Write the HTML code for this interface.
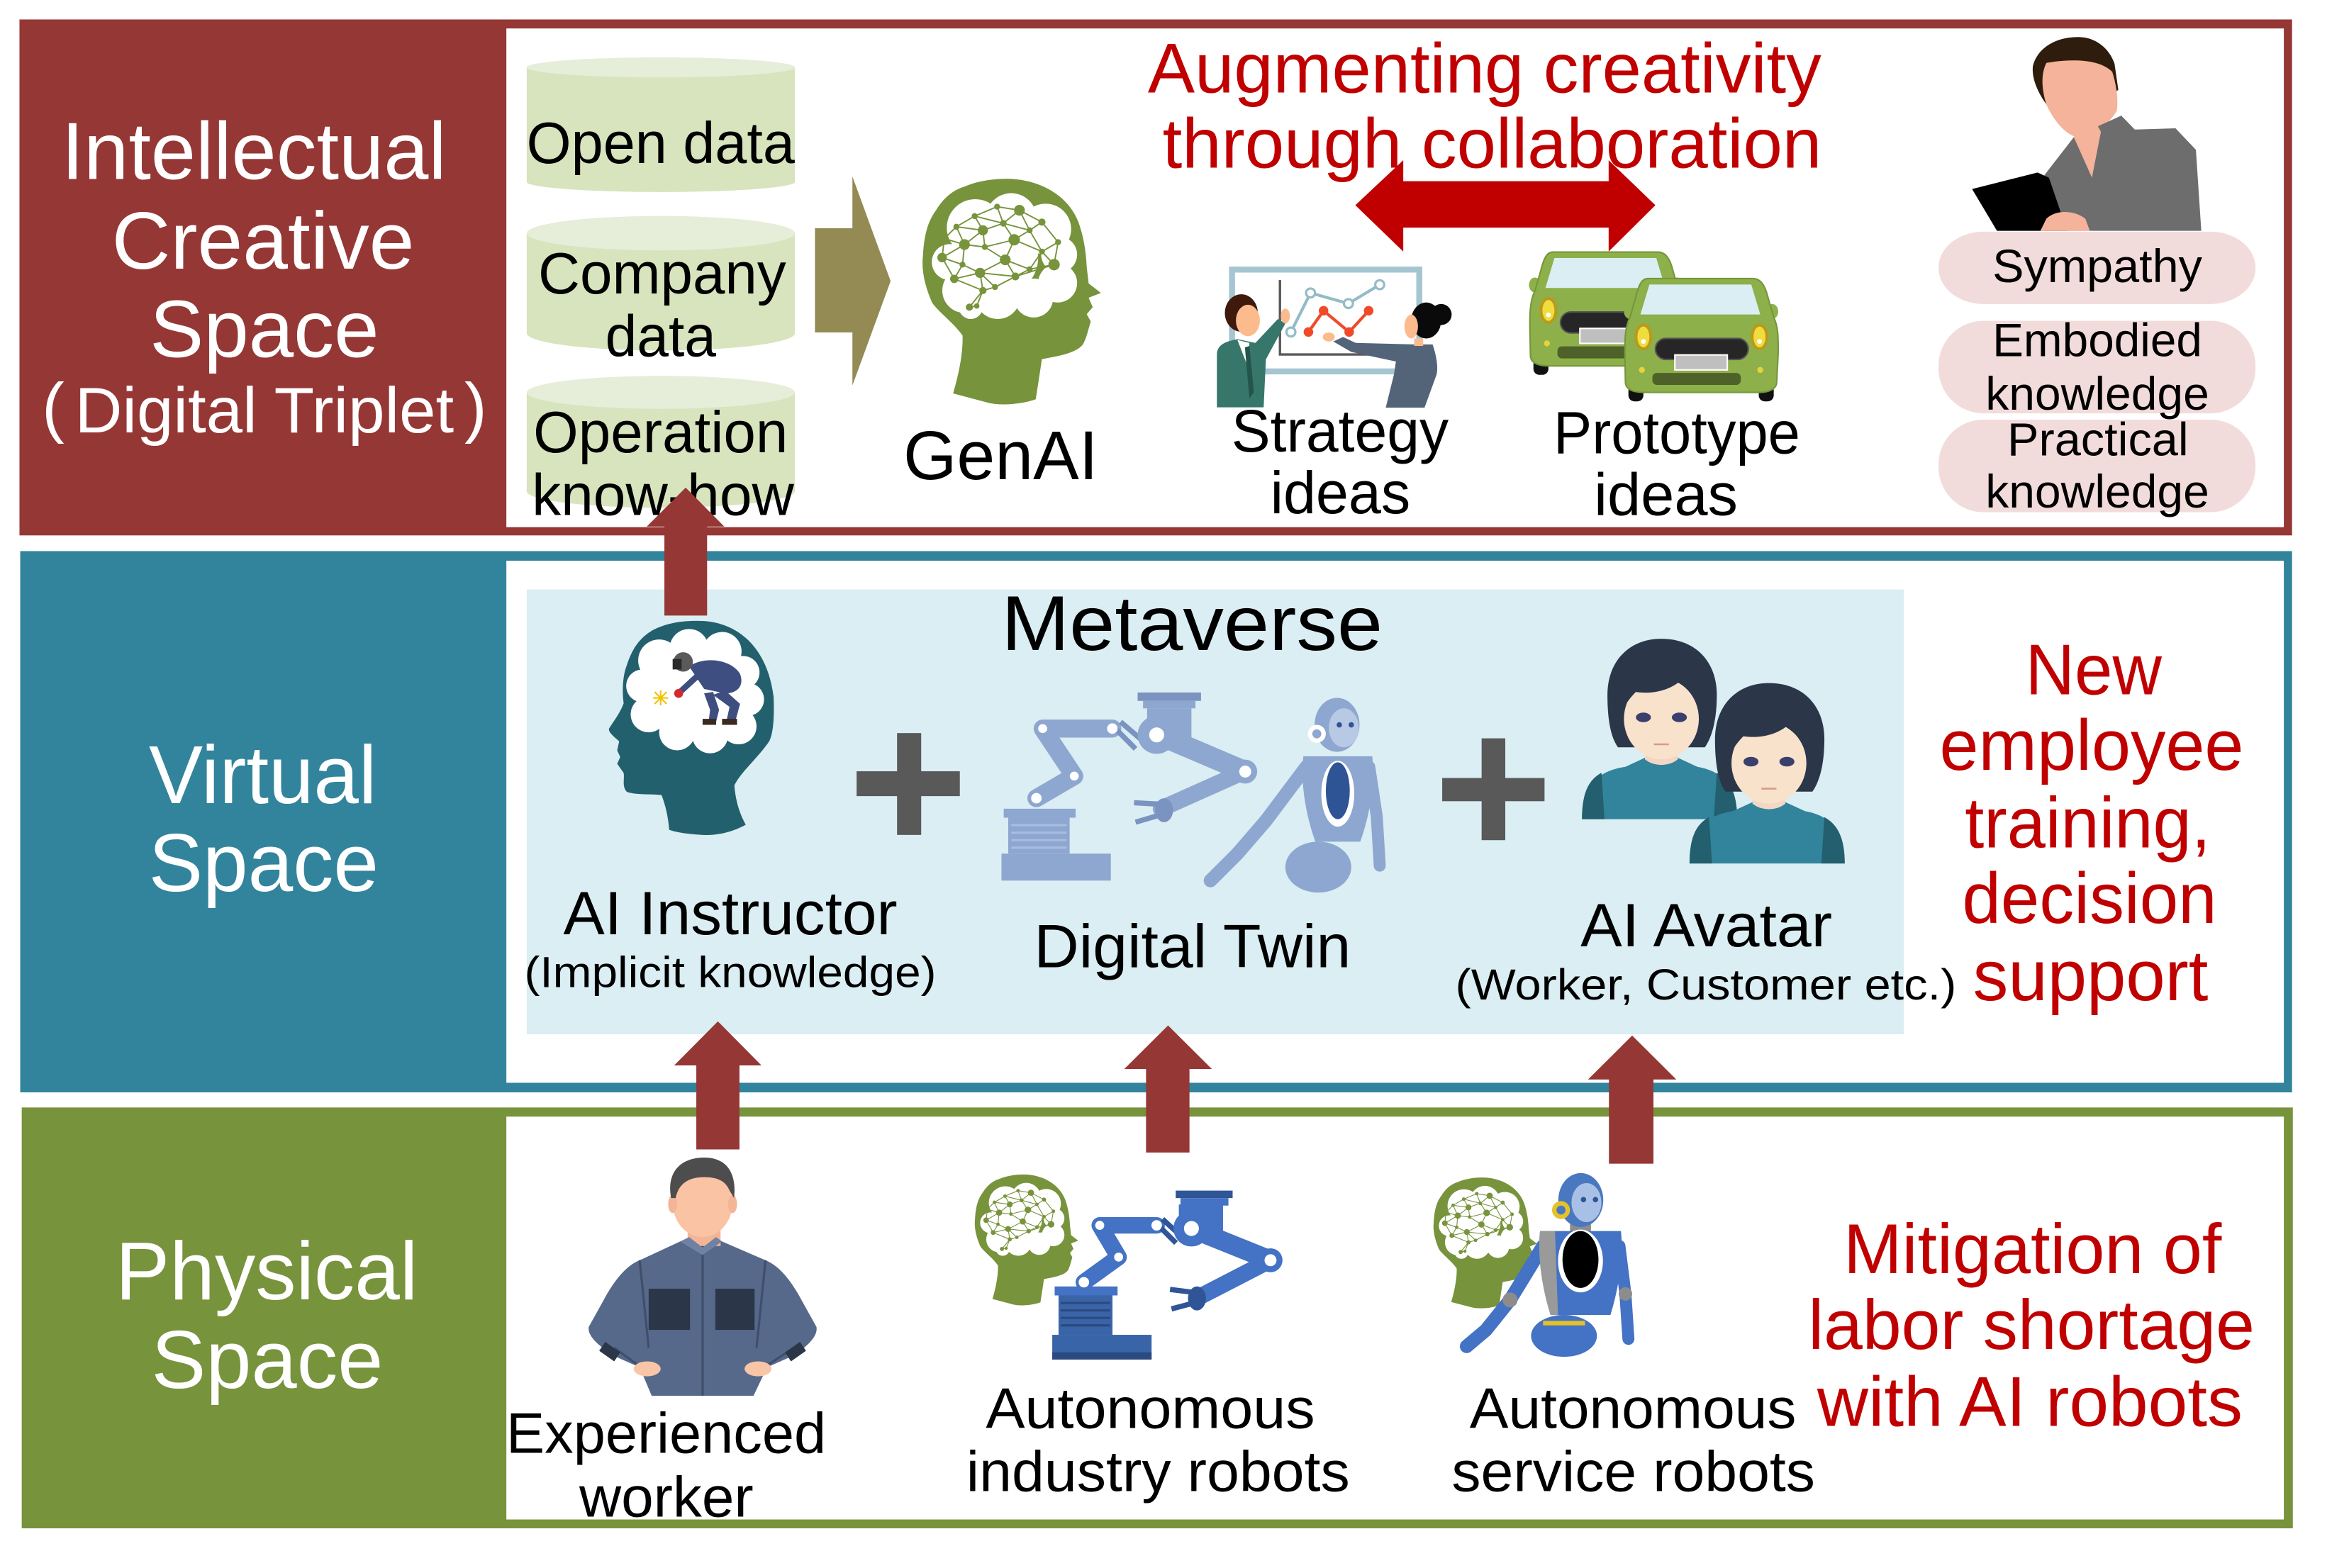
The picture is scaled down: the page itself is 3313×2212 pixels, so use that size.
<!DOCTYPE html>
<html>
<head>
<meta charset="utf-8">
<style>
html,body{margin:0;padding:0;background:#fff;overflow:hidden;}
svg{display:block;}
.t{font-family:"Liberation Sans",Arial,"Noto Sans CJK JP",sans-serif;}
</style>
</head>
<body>
<svg width="3313" height="2212" viewBox="0 0 1568 1047" preserveAspectRatio="none" xmlns="http://www.w3.org/2000/svg" xmlns:xlink="http://www.w3.org/1999/xlink">
<defs>
  <g id="brainhead">
    <path fill="#77933C" d="M671,119.4 C690,119 712,128 719.9,148.3 C724,160 725,170 725.4,178.3 L726.7,189.3 L734.9,195.6 L726.7,198.8 L729.4,205.1 L725.4,209.8 L728.1,214.6 L725.4,224 C724,228 723,230 722.6,230.3 C718,236 705,238 695.5,239.8 L691.4,266.6 C682,270 668,271 660,269 L636.2,262.7 C640,250 643,235 642.5,224 C636,215 626,208 622.1,201.9 C617,190 615,180 616.1,170.4 C617,155 620,147 624.8,140.4 C630,132 636,127 643.8,124.6 C652,121 662,119.5 671,119.4 Z"/>
    <g fill="#fff">
      <circle cx="651" cy="152" r="19"/>
      <circle cx="675" cy="146" r="17"/>
      <circle cx="698" cy="153" r="17"/>
      <circle cx="707" cy="170" r="12"/>
      <circle cx="706" cy="189" r="13"/>
      <circle cx="690" cy="199" r="13"/>
      <circle cx="666" cy="198" r="15"/>
      <circle cx="644" cy="194" r="15"/>
      <circle cx="634" cy="175" r="12"/>
      <circle cx="668" cy="172" r="25"/>
      <circle cx="648" cy="205" r="8"/>
    </g>
    <path stroke="#77933C" stroke-width="0.9" fill="none" d="M665.6,138 L680.5,140.4 M665.6,138 L650.6,144.3 M665.6,138 L669.7,149.1 M680.5,140.4 L695.5,148.3 M680.5,140.4 L669.7,149.1 M680.5,140.4 L687.3,153.8 M695.5,148.3 L687.3,153.8 M695.5,148.3 L706.3,161.7 M650.6,144.3 L638.4,151.4 M650.6,144.3 L656.1,153.8 M650.6,144.3 L669.7,149.1 M638.4,151.4 L630.3,159.3 M638.4,151.4 L656.1,153.8 M638.4,151.4 L643.8,163.3 M656.1,153.8 L669.7,149.1 M656.1,153.8 L657.4,164.9 M656.1,153.8 L643.8,163.3 M669.7,149.1 L677,160.1 M669.7,149.1 L687.3,153.8 M687.3,153.8 L677,160.1 M687.3,153.8 L695.5,168 M630.3,159.3 L643.8,163.3 M630.3,159.3 L628.9,172 M643.8,163.3 L657.4,164.9 M643.8,163.3 L642.5,176.7 M643.8,163.3 L628.9,172 M657.4,164.9 L677,160.1 M657.4,164.9 L671,173.5 M677,160.1 L695.5,168 M677,160.1 L671,173.5 M706.3,161.7 L695.5,168 M706.3,161.7 L703.6,176.7 M695.5,168 L703.6,176.7 M695.5,168 L687.3,179.8 M628.9,172 L642.5,176.7 M628.9,172 L637,186.2 M642.5,176.7 L654.2,182.2 M642.5,176.7 L637,186.2 M671,173.5 L654.2,182.2 M671,173.5 L677.8,184.6 M671,173.5 L687.3,179.8 M703.6,176.7 L687.3,179.8 M703.6,176.7 L677.8,184.6 M637,186.2 L654.2,182.2 M637,186.2 L656.1,194 M654.2,182.2 L677.8,184.6 M654.2,182.2 L664.2,191.7 M654.2,182.2 L656.1,194 M677.8,184.6 L664.2,191.7 M687.3,179.8 L677.8,184.6 M664.2,191.7 L656.1,194 M656.1,194 L647.1,205.1 M656.1,194 L652,204.3 M647.1,205.1 L652,204.3"/>
    <g fill="#77933C">
      <circle cx="665.6" cy="138" r="2"/><circle cx="680.5" cy="140.4" r="3.6"/><circle cx="695.5" cy="148.3" r="2.4"/>
      <circle cx="650.6" cy="144.3" r="2"/><circle cx="638.4" cy="151.4" r="2"/><circle cx="656.1" cy="153.8" r="3.4"/>
      <circle cx="669.7" cy="149.1" r="2.2"/><circle cx="687.3" cy="153.8" r="2"/><circle cx="630.3" cy="159.3" r="2"/>
      <circle cx="643.8" cy="163.3" r="3.6"/><circle cx="657.4" cy="164.9" r="2"/><circle cx="677" cy="160.1" r="3.8"/>
      <circle cx="706.3" cy="161.7" r="2"/><circle cx="695.5" cy="168" r="2"/><circle cx="628.9" cy="172" r="3.2"/>
      <circle cx="642.5" cy="176.7" r="2"/><circle cx="671" cy="173.5" r="3.6"/><circle cx="703.6" cy="176.7" r="3.8"/>
      <circle cx="637" cy="186.2" r="2.8"/><circle cx="654.2" cy="182.2" r="3.4"/><circle cx="677.8" cy="184.6" r="2.6"/>
      <circle cx="687.3" cy="179.8" r="2"/><circle cx="664.2" cy="191.7" r="2"/><circle cx="656.1" cy="194" r="2.4"/>
      <circle cx="647.1" cy="205.1" r="2.4"/><circle cx="652" cy="204.3" r="1.8"/>
    </g>
  </g>
  <g id="car">
    <rect x="1087" y="249" width="10" height="19" rx="4" fill="#111"/>
    <rect x="1174" y="249" width="10" height="19" rx="4" fill="#111"/>
    <ellipse cx="1088" cy="208" rx="4" ry="5" fill="#8DB04A"/>
    <ellipse cx="1183" cy="208" rx="4" ry="5" fill="#8DB04A"/>
    <path fill="#8DB04A" stroke="#76963A" stroke-width="1" d="M1100,186 L1170,186 C1175,186 1178,190 1180,198 L1184,212 C1187,218 1187,225 1187,235 L1186,255 C1186,260 1180,262 1175,262 L1097,262 C1090,262 1085,260 1085,255 L1084.6,235 C1084.6,225 1085,218 1088,212 L1092,198 C1094,190 1096,186 1100,186 Z"/>
    <path fill="#DAEEF3" d="M1101,190 L1169,190 L1175,210 L1095,210 Z"/>
    <ellipse cx="1097" cy="225" rx="6" ry="9" fill="#B89A1E"/>
    <ellipse cx="1097" cy="225" rx="4" ry="7" fill="#F0DC3C"/>
    <circle cx="1097" cy="228" r="1.6" fill="#fff"/>
    <ellipse cx="1174.5" cy="225" rx="6" ry="9" fill="#B89A1E"/>
    <ellipse cx="1174.5" cy="225" rx="4" ry="7" fill="#F0DC3C"/>
    <circle cx="1174.5" cy="228" r="1.6" fill="#fff"/>
    <rect x="1105" y="226" width="62" height="14" rx="7" fill="#262626" stroke="#555" stroke-width="1"/>
    <rect x="1118" y="237" width="35" height="10" fill="#BFBFBF" stroke="#fff" stroke-width="1"/>
    <rect x="1103" y="249" width="59" height="8" rx="3" fill="#4E6129"/>
    <circle cx="1096" cy="247" r="2" fill="#E6D23A"/>
    <circle cx="1175" cy="247" r="2" fill="#E6D23A"/>
  </g>
  <g id="avatar">
    <path fill="#31849B" d="M1056,547 C1056,525 1066,515 1085,512 L1098,506 L1120,506 L1133,512 C1150,515 1159.6,525 1159.6,547 Z"/>
    <path fill="#235F6E" d="M1056,547 C1056,530 1060,521 1069,516 L1071,547 Z"/>
    <path fill="#235F6E" d="M1159.6,547 C1159.6,530 1155,521 1146,516 L1144,547 Z"/>
    <path fill="#F3D7C4" d="M1099,494 L1119,494 L1120,507 C1114,512 1104,512 1098,507 Z"/>
    <path fill="#2B3648" d="M1109,426.5 C1132,426.5 1146,442 1146,464 C1146,480 1143,492 1138,499 L1080,499 C1075,492 1073,480 1073,464 C1073,442 1087,426.5 1109,426.5 Z"/>
    <ellipse cx="1109" cy="480" rx="25" ry="27" fill="#F8E2CC"/>
    <path fill="#2B3648" d="M1082,476 C1080,450 1094,440 1110,440 C1128,440 1138,452 1137,474 C1133,462 1128,456 1124,452 C1118,460 1104,464 1092,462 C1088,466 1085,470 1082,476 Z"/>
    <ellipse cx="1097" cy="479" rx="5" ry="3.2" fill="#3A3F6B"/>
    <ellipse cx="1121" cy="479" rx="5" ry="3.2" fill="#3A3F6B"/>
    <path d="M1104,497 L1114,497" stroke="#D99A8A" stroke-width="1.2"/>
  </g>
</defs>

<!-- ===== TOP SECTION ===== -->
<rect x="13" y="13" width="1517" height="344.5" fill="#953735"/>
<rect x="338" y="19" width="1186.5" height="333" fill="#fff"/>

<!-- ===== MIDDLE SECTION ===== -->
<rect x="13.5" y="368" width="1516.5" height="361.4" fill="#31849B"/>
<rect x="338" y="374.4" width="1186.5" height="348.6" fill="#fff"/>
<rect x="351.6" y="393.6" width="919.2" height="297" fill="#DAEEF3"/>

<!-- ===== BOTTOM SECTION ===== -->
<rect x="14.5" y="739.5" width="1516" height="281" fill="#77933C"/>
<rect x="338" y="745.6" width="1186.5" height="269" fill="#fff"/>

<!-- Left labels -->
<g class="t" fill="#fff" text-anchor="middle">
  <text x="169.5" y="119.6" font-size="54" textLength="257" lengthAdjust="spacingAndGlyphs">Intellectual</text>
  <text x="175.6" y="179.5" font-size="54" textLength="202" lengthAdjust="spacingAndGlyphs">Creative</text>
  <text x="176.5" y="238.3" font-size="54" textLength="153" lengthAdjust="spacingAndGlyphs">Space</text>
  <text x="176.5" y="288.7" font-size="43" textLength="253" lengthAdjust="spacingAndGlyphs">Digital Triplet</text>
  <text x="175.4" y="536.4" font-size="55" textLength="152" lengthAdjust="spacingAndGlyphs">Virtual</text>
  <text x="176" y="595" font-size="55" textLength="153.5" lengthAdjust="spacingAndGlyphs">Space</text>
  <text x="178" y="867.6" font-size="55" textLength="201.8" lengthAdjust="spacingAndGlyphs">Physical</text>
  <text x="178.4" y="926.8" font-size="55" textLength="154.7" lengthAdjust="spacingAndGlyphs">Space</text>
</g>
<g class="t" fill="#fff">
  <text x="28" y="287" font-size="45" text-anchor="start">(</text>
  <text x="325" y="287" font-size="45" text-anchor="end">)</text>
</g>

<!-- Cylinders -->
<path fill="#D7E4BD" d="M351.6,45 V121.5 A89.5,6.7 0 0 0 530.6,121.5 V45 Z"/>
<ellipse cx="441.1" cy="45" rx="89.5" ry="6.7" fill="#E6EDD9"/>
<path fill="#D7E4BD" d="M351.6,155.7 V222.5 A89.5,11.5 0 0 0 530.6,222.5 V155.7 Z"/>
<ellipse cx="441.1" cy="155.7" rx="89.5" ry="11.5" fill="#E6EDD9"/>
<path fill="#D7E4BD" d="M351.6,262 V328 A89.5,11 0 0 0 530.6,328 V262 Z"/>
<ellipse cx="441.1" cy="262" rx="89.5" ry="11" fill="#E6EDD9"/>

<g class="t" fill="#000" text-anchor="middle">
  <text x="441" y="108.8" font-size="39" textLength="179" lengthAdjust="spacingAndGlyphs">Open data</text>
  <text x="442" y="196" font-size="39" textLength="165.5" lengthAdjust="spacingAndGlyphs">Company</text>
  <text x="441" y="237.8" font-size="39" textLength="74" lengthAdjust="spacingAndGlyphs">data</text>
  <text x="441" y="302" font-size="39" textLength="170" lengthAdjust="spacingAndGlyphs">Operation</text>
  <text x="442.5" y="343.8" font-size="39" textLength="175" lengthAdjust="spacingAndGlyphs">know-how</text>
</g>

<!-- Olive arrow -->
<polygon fill="#948A54" points="544,152.4 569,152.4 569,117.8 594.5,187.7 569,257.4 569,222 544,222"/>

<!-- GenAI head -->
<use xlink:href="#brainhead" href="#brainhead"/>
<text class="t" x="668" y="320" font-size="46" text-anchor="middle" textLength="130" lengthAdjust="spacingAndGlyphs">GenAI</text>

<!-- Augmenting text -->
<g class="t" fill="#C00000" text-anchor="middle">
  <text x="991" y="61.7" font-size="47" textLength="449.6" lengthAdjust="spacingAndGlyphs">Augmenting creativity</text>
  <text x="996" y="111.9" font-size="47" textLength="440" lengthAdjust="spacingAndGlyphs">through collaboration</text>
</g>
<!-- Double arrow -->
<polygon fill="#C00000" points="904.7,137 936.7,107 936.7,121 1073.8,121 1073.8,107 1105,137 1073.8,168 1073.8,152 936.7,152 936.7,168"/>

<!-- Strategy icon -->
<rect x="822.4" y="180" width="125" height="68" fill="#fff" stroke="#A5C5D0" stroke-width="4"/>
<path d="M854.4,186.9 V236.7 H925" fill="none" stroke="#595959" stroke-width="1.6"/>
<polyline points="861.7,221.7 874.8,195.6 900.1,202.7 921,190.1" fill="none" stroke="#93BCC6" stroke-width="2"/>
<g fill="#fff" stroke="#93BCC6" stroke-width="1.5">
  <circle cx="861.7" cy="221.7" r="3"/><circle cx="874.8" cy="195.6" r="3"/><circle cx="900.1" cy="202.7" r="3"/><circle cx="921" cy="190.1" r="3"/>
</g>
<polyline points="873.4,221.7 883.5,207.5 900.6,221.7 913.6,207.5" fill="none" stroke="#F04A2A" stroke-width="2"/>
<g fill="#F04A2A">
  <circle cx="873.4" cy="221.7" r="3.2"/><circle cx="883.5" cy="207.5" r="3.2"/><circle cx="900.6" cy="221.7" r="3.2"/><circle cx="913.6" cy="207.5" r="3.2"/>
</g>
<!-- man -->
<path fill="#37766B" d="M812.3,272 L812.3,236 C813,230 818,228 826,226.5 L838,229 L853,213 L858,216 L845,240 L843.5,272 Z"/>
<path fill="#fff" d="M826,227 L834,229 L833,245 Z"/>
<path fill="#23554C" d="M831,232 L834,231 L837,262 L834,266 Z"/>
<ellipse cx="828.6" cy="209" rx="11" ry="12.5" fill="#3F1A0C"/>
<ellipse cx="833" cy="214" rx="8" ry="10.5" fill="#FCBB8D"/>
<ellipse cx="858" cy="211" rx="3" ry="5" fill="#FCBB8D"/>
<!-- woman -->
<path fill="#536479" d="M944,230 L956.3,230 C959,238 960,245 959,250 L950.9,272.2 L925,272.2 L930.5,250 L931.8,241.4 L902,235 L890,228 L896.5,225 L905,229 Z"/>
<ellipse cx="887" cy="225" rx="4" ry="3" fill="#FCBB8D"/>
<circle cx="962" cy="210" r="7" fill="#0A0A0A"/>
<ellipse cx="952" cy="214" rx="10" ry="12" fill="#0A0A0A"/>
<ellipse cx="942" cy="218" rx="4.5" ry="8" fill="#FCBB8D"/>
<rect x="944" y="226" width="6" height="5" fill="#FCBB8D"/>
<g class="t" fill="#000" text-anchor="middle">
  <text x="894.5" y="301.5" font-size="40" textLength="145" lengthAdjust="spacingAndGlyphs">Strategy</text>
  <text x="894.7" y="342.6" font-size="40" textLength="93.5" lengthAdjust="spacingAndGlyphs">ideas</text>
</g>

<!-- Cars -->
<use xlink:href="#car" href="#car" transform="translate(-63.4,-17.7)"/>
<use xlink:href="#car" href="#car"/>
<g class="t" fill="#000" text-anchor="middle">
  <text x="1119.3" y="302.6" font-size="40" textLength="164.6" lengthAdjust="spacingAndGlyphs">Prototype</text>
  <text x="1112" y="343.8" font-size="40" textLength="96" lengthAdjust="spacingAndGlyphs">ideas</text>
</g>

<!-- Woman with tablet -->
<path fill="#2E1D0C" d="M1385.8,24.8 C1398,24 1408,32 1411.5,42.6 L1414,60 L1400,70 L1367.7,72 C1360,62 1356,52 1357,44 C1360,32 1372,25 1385.8,24.8 Z"/>
<path fill="#F4B39A" d="M1366,42 C1378,40 1400,38 1410,48 C1413,58 1414,66 1413,74 C1406,85 1396,92 1385.8,91.6 C1376,88 1370,78 1366,70 C1363,60 1362,50 1366,42 Z"/>
<path fill="#6D6D6D" d="M1364.7,116.9 L1384.3,91.6 L1416,77.2 L1425,86.5 L1452.2,85.7 L1465.8,100 L1469.4,154.1 L1364.7,154.1 Z"/>
<path fill="#F4B39A" d="M1384.3,91.6 L1396.4,118.6 L1402.4,88 L1398,80 Z"/>
<path fill="#000" d="M1316.4,126.2 L1360.1,115.2 L1367.7,118.6 L1379.8,154.1 L1333,154.1 Z"/>
<path fill="#F4B39A" d="M1366,146 C1372,140 1384,140 1392,146 L1395,154.1 L1362,154.1 Z"/>

<!-- Pills -->
<g fill="#F2DCDB">
  <rect x="1294" y="154.7" width="211.6" height="48.3" rx="30" ry="24"/>
  <rect x="1294" y="214.2" width="211.6" height="61.8" rx="30" ry="30"/>
  <rect x="1294" y="280.2" width="211.6" height="61.8" rx="30" ry="30"/>
</g>
<g class="t" fill="#000" text-anchor="middle">
  <text x="1400" y="188.3" font-size="31" textLength="140" lengthAdjust="spacingAndGlyphs">Sympathy</text>
  <text x="1400" y="237.8" font-size="31" textLength="140" lengthAdjust="spacingAndGlyphs">Embodied</text>
  <text x="1400" y="273.6" font-size="31" textLength="149.4" lengthAdjust="spacingAndGlyphs">knowledge</text>
  <text x="1400.4" y="304" font-size="31" textLength="121" lengthAdjust="spacingAndGlyphs">Practical</text>
  <text x="1400" y="339" font-size="31" textLength="149.4" lengthAdjust="spacingAndGlyphs">knowledge</text>
</g>

<!-- ===== MIDDLE CONTENT ===== -->
<text class="t" x="795.7" y="434" font-size="52" text-anchor="middle" textLength="254.5" lengthAdjust="spacingAndGlyphs">Metaverse</text>

<!-- AI instructor head -->
<path fill="#23606E" d="M464.9,414.6 C490,414 512,430 516.4,465.3 C517,480 516,490 513.5,494.9 C506,506 494,516 490.2,524.5 C491,535 494,544 497.8,550.7 C488,556 478,558 469.1,557.5 C460,557 452,556 446.7,554.1 C446,545 444,537 441.6,530.9 C433,530 424,531 418.4,528.7 C415,525 417,520 416.3,516.1 L412,510 L414,505.5 L412,501 L413.3,495 C410,492 406,489 406.5,486.5 C410,481 414,476 416.3,469.6 C415,460 416,450 418.4,444.2 C422,433 427,426 435.3,421 C443,417 452,414.6 464.9,414.6 Z"/>
<g fill="#fff">
  <circle cx="440" cy="441" r="14"/><circle cx="460" cy="433" r="13"/><circle cx="482" cy="435" r="13"/>
  <circle cx="496" cy="449" r="11"/><circle cx="499" cy="467" r="11"/><circle cx="493" cy="485" r="12"/>
  <circle cx="474" cy="491" r="12"/><circle cx="452" cy="489" r="12"/><circle cx="433" cy="477" r="12"/>
  <circle cx="429" cy="458" r="11"/><circle cx="465" cy="462" r="29"/>
</g>
<!-- welder -->
<path fill="#3F4E80" d="M460,445 C470,438 488,440 494,450 C497,458 492,463 484,463 L470,460 Z"/>
<path fill="#3F4E80" d="M484,461 L494,470 L491,481 L485,481 L487,472 L476,464 Z"/>
<rect x="482" y="480" width="10" height="4" fill="#3A2A20"/>
<path fill="#3F4E80" d="M476,462 L480,474 L478,482 L473,482 L474,474 L470,463 Z"/>
<rect x="469" y="480" width="9" height="4" fill="#3A2A20"/>
<line x1="467" y1="450" x2="454" y2="462" stroke="#3F4E80" stroke-width="4"/>
<circle cx="453" cy="463" r="3" fill="#D42A2A"/>
<circle cx="456" cy="442" r="6.5" fill="#5A5A5A"/>
<rect x="449" y="440" width="6" height="7" fill="#2A2A2A"/>
<g stroke="#F2C200" stroke-width="1">
  <line x1="436" y1="466" x2="446" y2="466"/><line x1="441" y1="461" x2="441" y2="471"/>
  <line x1="437" y1="462" x2="445" y2="470"/><line x1="445" y1="462" x2="437" y2="470"/>
</g>
<g class="t" fill="#000" text-anchor="middle">
  <text x="487.5" y="623.8" font-size="41" textLength="223" lengthAdjust="spacingAndGlyphs">AI Instructor</text>
  <text x="487.5" y="659" font-size="29" textLength="275" lengthAdjust="spacingAndGlyphs">(Implicit knowledge)</text>
</g>

<!-- Plus signs -->
<g fill="#595959">
  <rect x="598.8" y="489.5" width="16.1" height="68"/>
  <rect x="571.8" y="515" width="68.9" height="16.6"/>
  <rect x="989" y="493" width="15.8" height="68"/>
  <rect x="962.7" y="519.5" width="68.3" height="15.5"/>
</g>

<!-- Digital twin robots -->
<g fill="#8EA7D0">
  <rect x="668.5" y="570" width="73" height="18"/>
  <rect x="673" y="546" width="41" height="24"/>
  <rect x="670" y="540" width="48" height="6"/>
</g>
<g stroke="#A9BDE0" stroke-width="1.5">
  <line x1="675" y1="551" x2="712" y2="551"/><line x1="675" y1="556" x2="712" y2="556"/>
  <line x1="675" y1="561" x2="712" y2="561"/><line x1="675" y1="566" x2="712" y2="566"/>
</g>
<polyline points="691.8,533 717.1,518.2 696,486.5 742.5,486.5" fill="none" stroke="#8EA7D0" stroke-width="12" stroke-linejoin="round" stroke-linecap="round"/>
<path d="M742,484 L758,500 M748,482 L762,494" stroke="#7A93C0" stroke-width="3.5" fill="none"/>
<g fill="#fff"><circle cx="691.8" cy="533" r="3.5"/><circle cx="717.1" cy="518.2" r="3"/><circle cx="696" cy="486.5" r="3"/><circle cx="742.5" cy="486.5" r="3.5"/></g>
<rect x="759.4" y="462.4" width="42.3" height="5.6" fill="#7A93C0"/>
<rect x="763" y="468" width="35" height="5" fill="#8EA7D0"/>
<rect x="765.7" y="473" width="29.6" height="19.8" fill="#8EA7D0"/>
<line x1="772" y1="490" x2="831.2" y2="515.2" stroke="#8EA7D0" stroke-width="14" stroke-linecap="round"/>
<line x1="831" y1="515" x2="775" y2="540" stroke="#8EA7D0" stroke-width="11" stroke-linecap="round"/>
<circle cx="772.1" cy="490.7" r="12.7" fill="#8EA7D0"/>
<circle cx="772.1" cy="490.7" r="5" fill="#fff"/>
<circle cx="831.2" cy="515.2" r="8" fill="#8EA7D0"/>
<circle cx="831.2" cy="515.2" r="4" fill="#fff"/>
<path d="M775,537 L757,536 M775,544 L758,549" stroke="#7A93C0" stroke-width="3.5" fill="none"/>
<ellipse cx="777" cy="541" rx="6" ry="8" fill="#7A93C0"/>
<!-- humanoid -->
<path d="M872,512 L845,548 L826,570 L808,588" fill="none" stroke="#8EA7D0" stroke-width="9" stroke-linecap="round" stroke-linejoin="round"/>
<path d="M914,512 L919,545 L921,578" fill="none" stroke="#8EA7D0" stroke-width="8" stroke-linecap="round"/>
<path fill="#8EA7D0" d="M870,505 L916,505 C918,525 914,545 908,562 L878,562 C872,545 868,525 870,505 Z"/>
<ellipse cx="893" cy="530" rx="11" ry="22" fill="#fff"/>
<ellipse cx="893" cy="528" rx="8" ry="19" fill="#2F5496"/>
<ellipse cx="880" cy="579" rx="22" ry="17" fill="#8EA7D0"/>
<ellipse cx="892.5" cy="484" rx="15" ry="18" fill="#8EA7D0"/>
<ellipse cx="897" cy="486" rx="10" ry="13" fill="#B8C9E6"/>
<circle cx="879" cy="490" r="6" fill="#fff"/>
<circle cx="879" cy="490" r="3" fill="#8EA7D0"/>
<circle cx="894" cy="484" r="1.8" fill="#2F5496"/><circle cx="902" cy="484" r="1.8" fill="#2F5496"/>
<text class="t" x="796" y="645.8" font-size="41" text-anchor="middle" textLength="211.5" lengthAdjust="spacingAndGlyphs">Digital Twin</text>

<!-- Avatars -->
<use xlink:href="#avatar" href="#avatar"/>
<use xlink:href="#avatar" href="#avatar" transform="translate(71.8,29.6)"/>
<g class="t" fill="#000" text-anchor="middle">
  <text x="1139" y="632" font-size="41" textLength="168" lengthAdjust="spacingAndGlyphs">AI Avatar</text>
  <text x="1138.7" y="667.4" font-size="29" textLength="334.5" lengthAdjust="spacingAndGlyphs">(Worker, Customer etc.)</text>
</g>

<!-- New employee text -->
<g class="t" fill="#C00000" text-anchor="middle">
  <text x="1397.5" y="463.6" font-size="48" textLength="91" lengthAdjust="spacingAndGlyphs">New</text>
  <text x="1396.2" y="514" font-size="48" textLength="203" lengthAdjust="spacingAndGlyphs">employee</text>
  <text x="1393.6" y="565.8" font-size="48" textLength="164" lengthAdjust="spacingAndGlyphs">training,</text>
  <text x="1394.8" y="616.3" font-size="48" textLength="170" lengthAdjust="spacingAndGlyphs">decision</text>
  <text x="1395.5" y="667.8" font-size="48" textLength="157" lengthAdjust="spacingAndGlyphs">support</text>
</g>

<!-- ===== BOTTOM CONTENT ===== -->
<!-- Experienced worker -->
<path fill="#56698A" d="M454,829 L482,829 L511,841.5 C520,845 528,855 535,868 L545,886 C546,892 540,898 530,905 L512,913 L503,932 L435,932 L427,913 L409,905 C399,898 392,892 393,886 L403,868 C410,855 418,845 427,841.5 Z"/>
<path d="M410,900 L428,913 M530,900 L510,913 M469,832 L469,932 M427,841.5 L433,900 M511,841.5 L505,900" stroke="#3F4E6B" stroke-width="1.5" fill="none"/>
<rect x="433" y="860.5" width="27.6" height="27.5" fill="#2B3648"/>
<rect x="477.5" y="860.5" width="26.2" height="27.5" fill="#2B3648"/>
<path d="M404,896 L414,903 L410,909 L400,902 Z" fill="#2B3648"/>
<path d="M534,896 L524,903 L528,909 L538,902 Z" fill="#2B3648"/>
<ellipse cx="432" cy="914" rx="9" ry="5" fill="#F9C5A7"/>
<ellipse cx="506" cy="914" rx="9" ry="5" fill="#F9C5A7"/>
<rect x="459" y="816" width="22" height="16" fill="#F4B596"/>
<path d="M454,829 L469,838 L482,829 L478,826 L469,833 L460,826 Z" fill="#6F82A3"/>
<ellipse cx="469" cy="803" rx="20" ry="23" fill="#FAC3A4"/>
<ellipse cx="449" cy="804" rx="3" ry="6" fill="#F4B596"/>
<ellipse cx="489" cy="804" rx="3" ry="6" fill="#F4B596"/>
<path fill="#4D4D4D" d="M448,800 C445,785 452,774 468,773 C484,772 492,782 490,800 L487,795 C484,788 478,786 470,786 C460,786 453,790 451,800 Z"/>
<g class="t" fill="#000" text-anchor="middle">
  <text x="444.7" y="970" font-size="38" textLength="213.5" lengthAdjust="spacingAndGlyphs">Experienced</text>
  <text x="444.8" y="1012.6" font-size="38" textLength="116.3" lengthAdjust="spacingAndGlyphs">worker</text>
</g>

<!-- Industry robots -->
<use xlink:href="#brainhead" href="#brainhead" transform="translate(293.5,715) scale(0.58)"/>
<rect x="702.4" y="891.3" width="66.3" height="16.5" fill="#3A64A8"/>
<rect x="702.4" y="903" width="66.3" height="4.8" fill="#2B4A80"/>
<rect x="706.6" y="864.7" width="36" height="26.6" fill="#3A64A8"/>
<g stroke="#2B4A80" stroke-width="1.5">
  <line x1="708" y1="870" x2="741" y2="870"/><line x1="708" y1="875" x2="741" y2="875"/>
  <line x1="708" y1="880" x2="741" y2="880"/><line x1="708" y1="885" x2="741" y2="885"/>
</g>
<rect x="704" y="859" width="42" height="6" fill="#4472C4"/>
<polyline points="723.5,856.2 746.7,839.4 734.1,818.2 772.1,818.2" fill="none" stroke="#4472C4" stroke-width="11" stroke-linejoin="round" stroke-linecap="round"/>
<path d="M771,816 L785,830 M776,814 L789,826" stroke="#2F5597" stroke-width="3.5" fill="none"/>
<g fill="#fff"><circle cx="723.5" cy="856.2" r="3.5"/><circle cx="746.7" cy="839.4" r="3"/><circle cx="734.1" cy="818.2" r="3"/><circle cx="772.1" cy="818.2" r="3.5"/></g>
<rect x="784.8" y="795" width="38" height="5" fill="#2F5597"/>
<rect x="788" y="800" width="32" height="5" fill="#4472C4"/>
<rect x="786.9" y="804.3" width="29.5" height="20.3" fill="#4472C4"/>
<line x1="795.3" y1="820.3" x2="848.1" y2="841.5" stroke="#4472C4" stroke-width="13" stroke-linecap="round"/>
<line x1="848" y1="841.5" x2="799" y2="866.8" stroke="#4472C4" stroke-width="11" stroke-linecap="round"/>
<circle cx="795.3" cy="820.3" r="12" fill="#4472C4"/>
<circle cx="795.3" cy="820.3" r="5" fill="#fff"/>
<circle cx="848.1" cy="841.5" r="8" fill="#4472C4"/>
<circle cx="848.1" cy="841.5" r="4" fill="#fff"/>
<path d="M797,863 L781,861 M797,870 L782,874" stroke="#2F5597" stroke-width="3.5" fill="none"/>
<ellipse cx="799" cy="867" rx="6" ry="8" fill="#2F5597"/>
<g class="t" fill="#000" text-anchor="middle">
  <text x="767.9" y="953.5" font-size="38" textLength="219.7" lengthAdjust="spacingAndGlyphs">Autonomous</text>
  <text x="773" y="995.7" font-size="38" textLength="256" lengthAdjust="spacingAndGlyphs">industry robots</text>
</g>

<!-- Service robots -->
<use xlink:href="#brainhead" href="#brainhead" transform="translate(599.7,717) scale(0.58)"/>
<path d="M1030,832 L1008,868 L992,888 L979,899" fill="none" stroke="#4472C4" stroke-width="9" stroke-linecap="round" stroke-linejoin="round"/>
<circle cx="1008" cy="868" r="5" fill="#8C8C8C"/>
<path d="M1081,832 L1085,864 L1087,894" fill="none" stroke="#4472C4" stroke-width="8" stroke-linecap="round"/>
<circle cx="1085" cy="864" r="4.5" fill="#8C8C8C"/>
<rect x="1048" y="814" width="14" height="10" fill="#8C8C8C"/>
<path fill="#4472C4" d="M1028,822 L1082,822 C1084,840 1080,862 1075,878 L1035,878 C1030,862 1026,840 1028,822 Z"/>
<path fill="#9A9A9A" d="M1028,822 L1038,822 L1040,878 L1035,878 C1030,862 1026,840 1028,822 Z"/>
<ellipse cx="1055" cy="842" rx="15" ry="21" fill="#fff"/>
<ellipse cx="1055" cy="841" rx="12" ry="19" fill="#000"/>
<ellipse cx="1044" cy="892" rx="22" ry="14" fill="#4472C4"/>
<rect x="1030" y="882" width="28" height="3" fill="#E6C229"/>
<ellipse cx="1055.2" cy="801.3" rx="15" ry="18" fill="#4A78C0"/>
<ellipse cx="1059" cy="803" rx="10" ry="13" fill="#A9C0E6"/>
<circle cx="1042" cy="808" r="6" fill="#E6C229"/>
<circle cx="1042" cy="808" r="3" fill="#4A78C0"/>
<circle cx="1057" cy="801" r="1.8" fill="#2F5496"/><circle cx="1065" cy="801" r="1.8" fill="#2F5496"/>
<g class="t" fill="#000" text-anchor="middle">
  <text x="1090" y="953.5" font-size="38" textLength="218" lengthAdjust="spacingAndGlyphs">Autonomous</text>
  <text x="1090.3" y="995.7" font-size="38" textLength="242.6" lengthAdjust="spacingAndGlyphs">service robots</text>
</g>

<!-- Mitigation text -->
<g class="t" fill="#C00000" text-anchor="middle">
  <text x="1356.8" y="850" font-size="47" textLength="252.4" lengthAdjust="spacingAndGlyphs">Mitigation of</text>
  <text x="1356" y="900.8" font-size="47" textLength="298" lengthAdjust="spacingAndGlyphs">labor shortage</text>
  <text x="1355" y="952.2" font-size="47" textLength="284" lengthAdjust="spacingAndGlyphs">with AI robots</text>
</g>

<!-- ===== Maroon arrows (on top) ===== -->
<g fill="#953735">
  <polygon points="443.5,411 443.5,351.6 431.7,351.6 457.7,325.6 483.5,351.6 472,351.6 472,411"/>
  <polygon points="464.8,767.5 464.8,711.4 450,711.4 479.2,682 508.3,711.4 493.6,711.4 493.6,767.5"/>
  <polygon points="765,769.6 765,713.8 750.5,713.8 779.7,684.7 808.9,713.8 794,713.8 794,769.6"/>
  <polygon points="1074,777 1074,720.8 1060,720.8 1089.5,691.5 1119,720.8 1103.7,720.8 1103.7,777"/>
</g>
</svg>
</body>
</html>
